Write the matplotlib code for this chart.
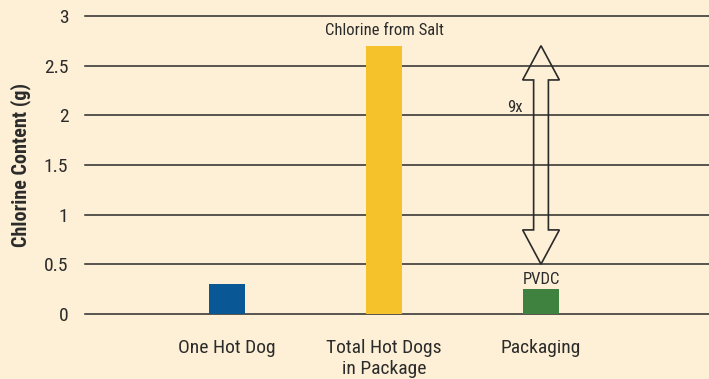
import numpy as np
import matplotlib.pyplot as plt
from matplotlib.patches import Polygon

# data
categories = ['One Hot Dog', 'Total Hot Dogs\nin Package', 'Packaging']
chlorine_g = [0.30, 2.70, 0.25]
bar_colors = ['#0A5796', '#F5C22B', '#3F8240']
yticks = [0, 0.5, 1, 1.5, 2, 2.5, 3]
ytick_labels = ['0', '0.5', '1', '1.5', '2', '2.5', '3']
arrow_low = 0.5
ratio_label = '9x'

plt.rcParams['font.family'] = ['Roboto Condensed', 'DejaVu Sans']

bg = '#FEF0D6'
txt = '#2b2b2b'
fig = plt.figure(figsize=(7.09, 3.79), dpi=100, facecolor=bg)
ax = fig.add_axes([0.12, 0.172, 0.88, 0.786], facecolor=bg)

x = np.arange(len(categories))
ax.bar(x, chlorine_g, width=0.23, color=bar_colors, zorder=3)

ax.set_ylim(0, 3)
ax.set_xlim(-0.904, 3.07)
for s in ax.spines.values():
    s.set_visible(False)
for yv in yticks:
    ax.axhline(yv, color='#2a2a2a', lw=1.1, zorder=1, clip_on=False)

ax.set_yticks(yticks)
ax.set_yticklabels(ytick_labels, fontsize=14, color=txt)
ax.tick_params(axis='y', length=0, pad=12)
ax.set_xticks(x)
ax.set_xticklabels(categories, fontsize=14, color=txt, linespacing=1.25, va='top')
ax.tick_params(axis='x', length=0, pad=18)
ax.set_ylabel('Chlorine Content (g)', fontsize=14.5, fontweight='bold', color=txt, labelpad=9)

# labels over bars
ax.text(x[1], chlorine_g[1] + 0.08, 'Chlorine from Salt', ha='center', va='bottom', fontsize=12, color=txt)
ax.text(x[2], chlorine_g[2] + 0.02, 'PVDC', ha='center', va='bottom', fontsize=12, color=txt)

# hollow double arrow between PVDC and salt
xc = x[2]
hw_shaft, hw_head, head_len = 0.047, 0.117, 0.345
top, bot = chlorine_g[1], arrow_low
pts = [(xc, top), (xc + hw_head, top - head_len), (xc + hw_shaft, top - head_len),
       (xc + hw_shaft, bot + head_len), (xc + hw_head, bot + head_len), (xc, bot),
       (xc - hw_head, bot + head_len), (xc - hw_shaft, bot + head_len),
       (xc - hw_shaft, top - head_len), (xc - hw_head, top - head_len)]
ax.add_patch(Polygon(pts, closed=True, fill=False, edgecolor='#2a2a2a', lw=1.2, zorder=4))
ax.text(xc - 0.165, 2.08, ratio_label, ha='center', va='center', fontsize=12, color=txt)

fig.savefig('out.png', dpi=100, facecolor=bg)
